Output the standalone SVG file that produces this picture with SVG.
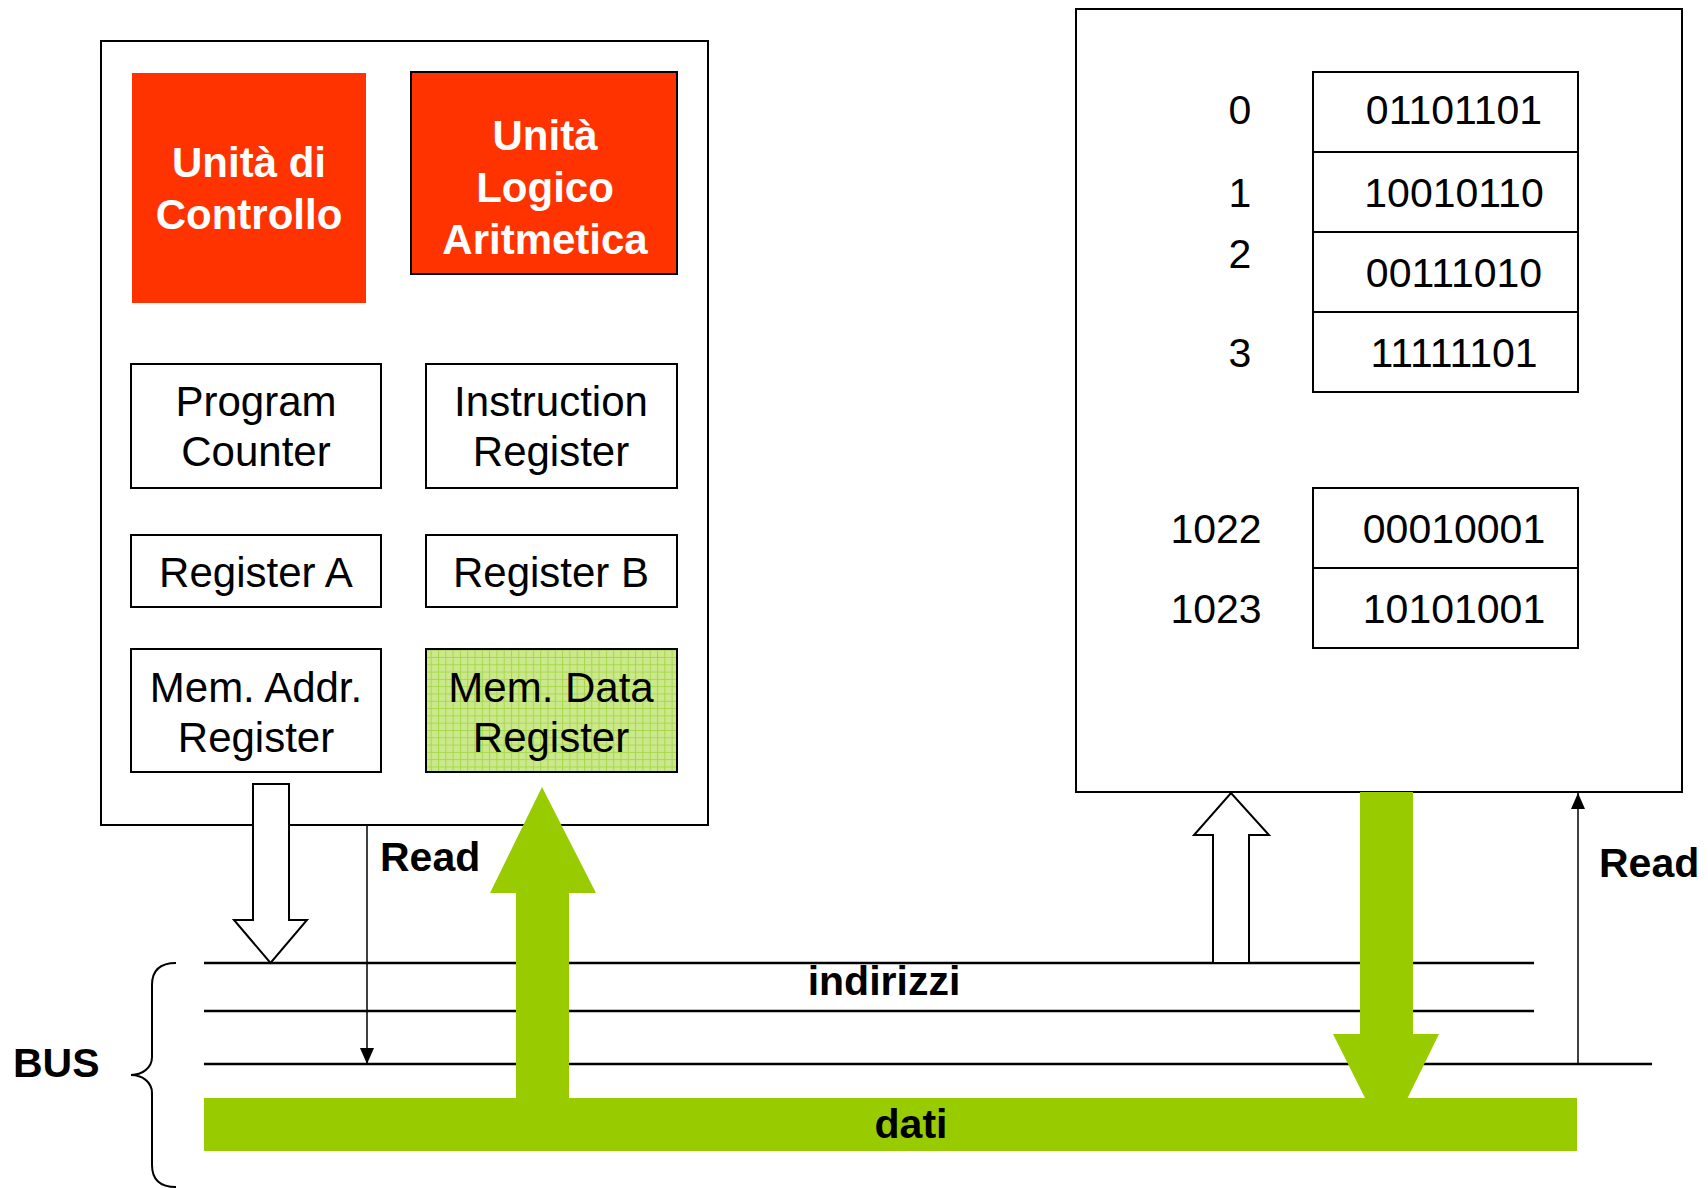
<svg xmlns="http://www.w3.org/2000/svg" width="1708" height="1188" viewBox="0 0 1708 1188">
<style>
.box{fill:#fff;stroke:#000;stroke-width:2}
.reg{font-family:"Liberation Sans",Arial,sans-serif;font-size:42px;fill:#000;text-anchor:middle}
.mem{font-family:"Liberation Sans",Arial,sans-serif;font-size:41px;fill:#000;text-anchor:middle}
.wb{font-family:"Liberation Sans",Arial,sans-serif;font-size:42px;font-weight:bold;fill:#fff;text-anchor:middle}
.bb{font-family:"Liberation Sans",Arial,sans-serif;font-size:41px;font-weight:bold;fill:#000}
.bus{stroke:#000;stroke-width:2.5;fill:none}
.thin{stroke:#000;stroke-width:1.5;fill:none}
.green{fill:#99CC00}
.hollow{fill:#fff;stroke:#000;stroke-width:2}
</style>
<defs>
<pattern id="grid" width="7.3" height="7.3" patternUnits="userSpaceOnUse">
<rect width="7.3" height="7.3" fill="#cce88c"/>
<path d="M0 0.5H7.3M0.5 0V7.3" stroke="#a6d74a" stroke-width="1"/>
</pattern>
<marker id="ah" markerWidth="16" markerHeight="14" refX="16" refY="7" orient="auto" markerUnits="userSpaceOnUse" viewBox="0 0 16 14">
<path d="M0 0L16 7L0 14Z" fill="#000"/>
</marker>
</defs>

<g id="cpu">
<rect class="box" x="101" y="41" width="607" height="784"/>
</g>
<g id="control-unit">
<rect x="132" y="73" width="234" height="230" fill="#FF3300"/>
<text class="wb" x="249" y="177">Unità di</text>
<text class="wb" x="249" y="229">Controllo</text>
</g>
<g id="alu">
<rect x="411" y="72" width="266" height="202" fill="#FF3300" stroke="#000" stroke-width="2"/>
<text class="wb" x="545" y="150">Unità</text>
<text class="wb" x="545" y="202">Logico</text>
<text class="wb" x="545" y="254">Aritmetica</text>
</g>
<g id="program-counter">
<rect class="box" x="131" y="364" width="250" height="124"/>
<text class="reg" x="256" y="416">Program</text>
<text class="reg" x="256" y="466">Counter</text>
</g>
<g id="instruction-register">
<rect class="box" x="426" y="364" width="251" height="124"/>
<text class="reg" x="551" y="416">Instruction</text>
<text class="reg" x="551" y="466">Register</text>
</g>
<g id="register-a">
<rect class="box" x="131" y="535" width="250" height="72"/>
<text class="reg" x="256" y="587">Register A</text>
</g>
<g id="register-b">
<rect class="box" x="426" y="535" width="251" height="72"/>
<text class="reg" x="551" y="587">Register B</text>
</g>
<g id="mar">
<rect class="box" x="131" y="649" width="250" height="123"/>
<text class="reg" x="256" y="702">Mem. Addr.</text>
<text class="reg" x="256" y="752">Register</text>
</g>
<g id="mdr">
<rect x="426" y="649" width="251" height="123" fill="url(#grid)" stroke="#000" stroke-width="2"/>
<text class="reg" x="551" y="702">Mem. Data</text>
<text class="reg" x="551" y="752">Register</text>
</g>

<g id="memory">
<rect class="box" x="1076" y="9" width="606" height="783"/>
<rect class="box" x="1313" y="72" width="265" height="80"/>
<rect class="box" x="1313" y="152" width="265" height="80"/>
<rect class="box" x="1313" y="232" width="265" height="80"/>
<rect class="box" x="1313" y="312" width="265" height="80"/>
<rect class="box" x="1313" y="488" width="265" height="80"/>
<rect class="box" x="1313" y="568" width="265" height="80"/>
<text class="mem" x="1240" y="124">0</text>
<text class="mem" x="1240" y="207">1</text>
<text class="mem" x="1240" y="268">2</text>
<text class="mem" x="1240" y="367">3</text>
<text class="mem" x="1216" y="543">1022</text>
<text class="mem" x="1216" y="623">1023</text>
<text class="mem" x="1454" y="124">01101101</text>
<text class="mem" x="1454" y="207">10010110</text>
<text class="mem" x="1454" y="287">00111010</text>
<text class="mem" x="1454" y="367">11111101</text>
<text class="mem" x="1454" y="543">00010001</text>
<text class="mem" x="1454" y="623">10101001</text>
</g>

<g id="bus">
<line class="bus" x1="204" y1="963" x2="1534" y2="963"/>
<line class="bus" x1="204" y1="1011" x2="1534" y2="1011"/>
<line class="bus" x1="204" y1="1064" x2="1652" y2="1064"/>
<rect class="green" x="204" y="1098" width="1373" height="53"/>
<path d="M176 963C160 963 152 970 152 985V1057C152 1068 142 1075 131 1075C142 1075 152 1082 152 1093V1165C152 1180 160 1187 176 1187" fill="none" stroke="#000" stroke-width="2"/>
<text class="bb" x="13" y="1077">BUS</text>
<text class="bb" x="884" y="995" text-anchor="middle">indirizzi</text>
<text class="bb" x="911" y="1138" text-anchor="middle">dati</text>
</g>

<g id="connectors">
<polygon class="hollow" points="253,784 289,784 289,920 307,920 270.5,963 234,920 253,920"/>
<line class="thin" x1="367" y1="825" x2="367" y2="1064" marker-end="url(#ah)"/>
<text class="bb" x="380" y="871">Read</text>
<polygon class="green" points="516,1098 516,893 490,893 542,787 596,893 569,893 569,1098"/>
<polygon class="hollow" points="1213,963 1213,835 1194,835 1231,793 1269,835 1249,835 1249,963"/>
<polygon class="green" points="1360,792 1413,792 1413,1034 1439,1034 1386.5,1141 1333,1034 1360,1034"/>
<line class="thin" x1="1578" y1="1064" x2="1578" y2="793" marker-end="url(#ah)"/>
<text class="bb" x="1599" y="877">Read</text>
</g>
</svg>
